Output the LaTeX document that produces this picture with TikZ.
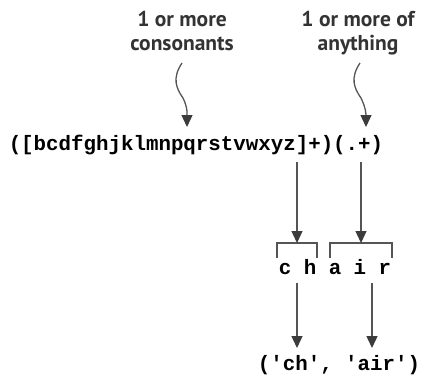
\documentclass[tikz,border=0pt]{standalone}
\usepackage{fontspec}
\usepackage{xcolor}
\usetikzlibrary{positioning,arrows.meta}
\newfontfamily\codefont{Liberation Mono}
\newfontfamily\notefont{PT Sans}
\definecolor{inkgray}{HTML}{333333}
\definecolor{linegray}{HTML}{555555}
\definecolor{headgray}{HTML}{3C3C3C}

\begin{document}
\begin{tikzpicture}[
    x=1pt,y=-1pt,
    code/.style={inner sep=0pt,anchor=base,text=black,
      font=\codefont\bfseries\fontsize{20.8}{25}\selectfont},
    note/.style={inner sep=0pt,anchor=base,align=center,text=inkgray,
      font=\notefont\bfseries\fontsize{21.5}{24}\selectfont},
    arr/.style={draw=linegray,line width=1.3pt,
      -{Triangle[width=11pt,length=12pt,color=headgray,fill=headgray]}},
    brk/.style={draw=linegray,line width=1.1pt}
]
\useasboundingbox (0,0) rectangle (421,384);

% labels on top (base = last line)
\node[note] (consNote) at (182,50) {1 or more\\consonants};
\node[note] (anyNote) at (358,50) {1 or more of\\anything};

% the pattern and the strings
\node[code] (regex) at (196,150) {([bcdfghjklmnpqrstvwxyz]+)(.+)};
\node[code] (word) at (335,274) {c h a i r};
\node[code] (result) at (339,370) {('ch', 'air')};

% group ends and brackets
\coordinate (consTop) at (182,63);
\coordinate (consMid) at (183,98);
\coordinate (consTip) at (187,127);
\coordinate (anyTop) at (360,63);
\coordinate (anyMid) at (361,98);
\coordinate (anyTip) at (366,127);
\coordinate (grpA) at (297,162);
\coordinate (grpB) at (361,162);
\coordinate (brkA) at (297,243);
\coordinate (brkB) at (361,243);
\coordinate (partA) at (297,283);
\coordinate (partB) at (372,283);
\coordinate (outA) at (297,348);
\coordinate (outB) at (372,348);

\draw[brk] (277,258) -- (277,243) -- (317,243) -- (317,258);
\draw[brk] (330,258) -- (330,243) -- (392,243) -- (392,258);

% wavy pointers
\draw[arr] (consTop) .. controls (172,78) and (176,88) .. (consMid)
  .. controls (188,108) and (187,115) .. (consTip);
\draw[arr] (anyTop) .. controls (350,78) and (354,88) .. (anyMid)
  .. controls (366,108) and (366,115) .. (anyTip);

% straight arrows
\draw[arr] (grpA) -- (brkA);
\draw[arr] (grpB) -- (brkB);
\draw[arr] (partA) -- (outA);
\draw[arr] (partB) -- (outB);
\end{tikzpicture}
\end{document}
